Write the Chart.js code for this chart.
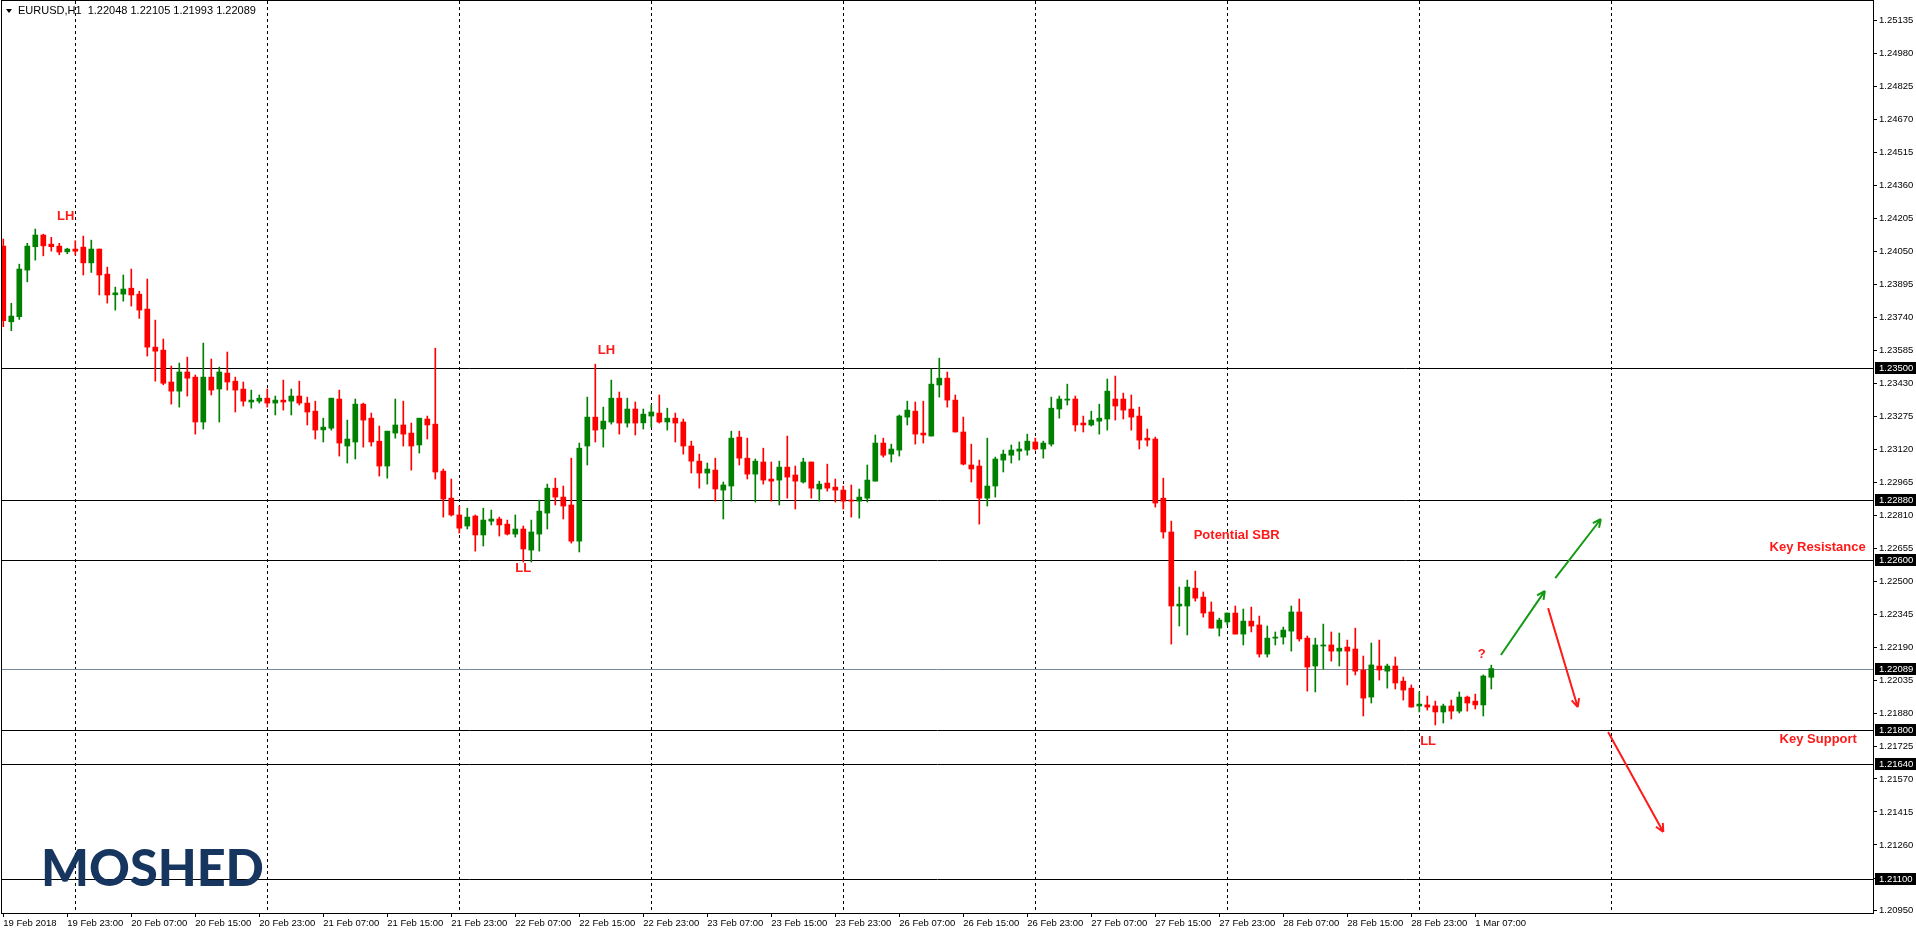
<!DOCTYPE html>
<html>
<head>
<meta charset="utf-8">
<script src="https://cdn.jsdelivr.net/npm/chart.js@4/dist/chart.umd.min.js"></script>
<style>
  html, body { margin: 0; padding: 0; background: #fff; }
  #wrap { width: 1916px; height: 934px; position: relative; }
</style>
</head>
<body>
<div id="wrap"><canvas id="chart"></canvas></div>
<script>
// EURUSD H1, 19 Feb 2018 14:00 .. 1 Mar 2018 08:00
const candleOpen = [
  1.24075,1.23719,1.23743,1.23962,1.24072,1.24127,1.24084,1.24075,1.24048,1.24061,
  1.24070,1.23996,1.24061,1.23943,1.23846,1.23849,1.23877,1.23849,1.23779,1.23600,
  1.23586,1.23436,1.23393,1.23483,1.23459,1.23248,1.23459,1.23403,1.23478,1.23440,
  1.23403,1.23342,1.23346,1.23360,1.23337,1.23351,1.23346,1.23370,1.23337,1.23299,
  1.23211,1.23219,1.23356,1.23135,1.23154,1.23332,1.23266,1.23158,1.23041,1.23196,
  1.23234,1.23196,1.23140,1.23262,1.23238,1.23017,1.22890,1.22811,1.22759,1.22806,
  1.22717,1.22782,1.22792,1.22768,1.22721,1.22745,1.22646,1.22721,1.22820,1.22937,
  1.22895,1.22858,1.22688,1.23135,1.23271,1.23215,1.23248,1.23360,1.23243,1.23309,
  1.23244,1.23276,1.23290,1.23248,1.23266,1.23248,1.23135,1.23064,1.23008,1.23022,
  1.22928,1.22947,1.23177,1.23078,1.23003,1.23060,1.22980,1.22975,1.23036,1.22999,
  1.22966,1.23060,1.22933,1.22961,1.22942,1.22928,1.22881,1.22876,1.22890,1.22970,
  1.23149,1.23097,1.23116,1.23271,1.23299,1.23196,1.23182,1.23422,1.23454,1.23351,
  1.23201,1.23046,1.23041,1.22890,1.22947,1.23069,1.23092,1.23111,1.23116,1.23154,
  1.23121,1.23144,1.23309,1.23351,1.23356,1.23243,1.23234,1.23252,1.23262,1.23356,
  1.23356,1.23309,1.23276,1.23172,1.23168,1.22890,1.22731,1.22383,1.22383,1.22467,
  1.22425,1.22355,1.22279,1.22308,1.22350,1.22251,1.22312,1.22294,1.22157,1.22232,
  1.22237,1.22265,1.22355,1.22232,1.22101,1.22195,1.22200,1.22171,1.22190,1.22181,
  1.22082,1.21955,1.22101,1.22077,1.22101,1.22030,1.21997,1.21913,1.21918,1.21913,
  1.21885,1.21913,1.21889,1.21955,1.21936,1.21918,1.22048
];
const candleHigh = [
  1.24108,1.23806,1.23990,1.24088,1.24155,1.24131,1.24116,1.24088,1.24065,1.24100,
  1.24122,1.24103,1.24061,1.23976,1.23882,1.23939,1.23967,1.23863,1.23920,1.23727,
  1.23638,1.23511,1.23525,1.23553,1.23469,1.23619,1.23544,1.23506,1.23577,1.23459,
  1.23436,1.23398,1.23375,1.23403,1.23370,1.23445,1.23403,1.23440,1.23365,1.23346,
  1.23266,1.23360,1.23398,1.23257,1.23356,1.23337,1.23290,1.23229,1.23205,1.23356,
  1.23346,1.23243,1.23266,1.23276,1.23595,1.23027,1.22980,1.22853,1.22843,1.22811,
  1.22843,1.22834,1.22801,1.22787,1.22811,1.22759,1.22787,1.22881,1.22956,1.22984,
  1.22947,1.23078,1.23149,1.23365,1.23520,1.23318,1.23445,1.23389,1.23360,1.23342,
  1.23309,1.23328,1.23375,1.23313,1.23290,1.23262,1.23158,1.23097,1.23055,1.23078,
  1.22966,1.23205,1.23205,1.23172,1.23074,1.23125,1.23060,1.23064,1.23182,1.23041,
  1.23078,1.23060,1.22970,1.23050,1.22980,1.22947,1.22952,1.22933,1.23046,1.23187,
  1.23172,1.23144,1.23281,1.23346,1.23342,1.23346,1.23497,1.23548,1.23483,1.23375,
  1.23271,1.23144,1.23069,1.23172,1.23083,1.23116,1.23140,1.23154,1.23191,1.23172,
  1.23158,1.23365,1.23370,1.23426,1.23370,1.23276,1.23299,1.23332,1.23450,1.23464,
  1.23384,1.23375,1.23318,1.23215,1.23177,1.22984,1.22782,1.22472,1.22505,1.22547,
  1.22449,1.22402,1.22326,1.22350,1.22383,1.22369,1.22378,1.22336,1.22289,1.22261,
  1.22284,1.22383,1.22416,1.22242,1.22232,1.22298,1.22261,1.22256,1.22223,1.22279,
  1.22148,1.22209,1.22223,1.22110,1.22143,1.22049,1.22012,1.21979,1.21960,1.21936,
  1.21922,1.21941,1.21979,1.21960,1.21969,1.22059,1.22105
];
const candleLow = [
  1.23696,1.23677,1.23730,1.23907,1.24009,1.24029,1.24051,1.24034,1.24039,1.24033,
  1.23939,1.23951,1.23845,1.23807,1.23774,1.23816,1.23793,1.23735,1.23558,1.23440,
  1.23423,1.23332,1.23318,1.23370,1.23191,1.23215,1.23375,1.23248,1.23398,1.23295,
  1.23323,1.23313,1.23337,1.23318,1.23281,1.23304,1.23281,1.23328,1.23234,1.23168,
  1.23154,1.23210,1.23088,1.23055,1.23074,1.23130,1.23135,1.22994,1.22984,1.23172,
  1.23135,1.23022,1.23102,1.23168,1.22980,1.22801,1.22806,1.22726,1.22745,1.22641,
  1.22665,1.22764,1.22712,1.22717,1.22707,1.22590,1.22590,1.22641,1.22745,1.22858,
  1.22792,1.22679,1.22637,1.23046,1.23154,1.23130,1.23238,1.23191,1.23224,1.23187,
  1.23215,1.23224,1.23243,1.23210,1.23154,1.23097,1.23008,1.22937,1.22956,1.22876,
  1.22792,1.22876,1.23046,1.22980,1.22872,1.22956,1.22876,1.22858,1.22890,1.22839,
  1.22961,1.22890,1.22876,1.22923,1.22872,1.22839,1.22801,1.22796,1.22872,1.22970,
  1.23083,1.23060,1.23088,1.23234,1.23144,1.23149,1.23182,1.23365,1.23318,1.23201,
  1.23046,1.22966,1.22768,1.22853,1.22895,1.23013,1.23055,1.23069,1.23092,1.23116,
  1.23078,1.23135,1.23266,1.23328,1.23205,1.23201,1.23229,1.23191,1.23210,1.23257,
  1.23262,1.23210,1.23121,1.23135,1.22848,1.22702,1.22204,1.22289,1.22247,1.22406,
  1.22331,1.22279,1.22242,1.22294,1.22251,1.22200,1.22261,1.22143,1.22143,1.22200,
  1.22204,1.22171,1.22218,1.21983,1.21979,1.22087,1.22124,1.22101,1.22012,1.22059,
  1.21866,1.21927,1.22035,1.21997,1.21993,1.21941,1.21908,1.21885,1.21894,1.21824,
  1.21833,1.21852,1.21880,1.21889,1.21899,1.21866,1.21993
];
const candleClose = [
  1.23724,1.23746,1.23967,1.24075,1.24127,1.24076,1.24072,1.24047,1.24061,1.24051,
  1.23996,1.24061,1.23939,1.23845,1.23855,1.23873,1.23845,1.23774,1.23600,1.23581,
  1.23430,1.23393,1.23483,1.23454,1.23248,1.23459,1.23398,1.23483,1.23436,1.23398,
  1.23346,1.23351,1.23360,1.23337,1.23351,1.23342,1.23370,1.23337,1.23295,1.23210,
  1.23224,1.23360,1.23149,1.23168,1.23332,1.23257,1.23154,1.23041,1.23205,1.23234,
  1.23191,1.23135,1.23266,1.23234,1.23013,1.22886,1.22811,1.22749,1.22801,1.22717,
  1.22787,1.22792,1.22764,1.22721,1.22745,1.22651,1.22731,1.22829,1.22937,1.22895,
  1.22853,1.22688,1.23125,1.23271,1.23210,1.23252,1.23360,1.23243,1.23309,1.23243,
  1.23285,1.23295,1.23248,1.23266,1.23243,1.23135,1.23064,1.23008,1.23027,1.22933,
  1.22952,1.23172,1.23078,1.23003,1.23064,1.22975,1.22970,1.23036,1.22989,1.22970,
  1.23060,1.22937,1.22956,1.22937,1.22928,1.22876,1.22876,1.22895,1.22975,1.23149,
  1.23092,1.23121,1.23276,1.23304,1.23191,1.23187,1.23426,1.23454,1.23351,1.23201,
  1.23050,1.23027,1.22890,1.22947,1.23074,1.23097,1.23116,1.23121,1.23158,1.23121,
  1.23149,1.23313,1.23356,1.23356,1.23234,1.23234,1.23257,1.23266,1.23393,1.23323,
  1.23304,1.23271,1.23163,1.23163,1.22867,1.22731,1.22383,1.22392,1.22472,1.22420,
  1.22350,1.22279,1.22317,1.22350,1.22251,1.22312,1.22289,1.22157,1.22232,1.22237,
  1.22270,1.22355,1.22228,1.22096,1.22200,1.22200,1.22171,1.22185,1.22171,1.22077,
  1.21950,1.22106,1.22082,1.22101,1.22021,1.21988,1.21908,1.21922,1.21908,1.21885,
  1.21913,1.21889,1.21955,1.21927,1.21918,1.22054,1.22089
];

// time axis labels (every 8 bars)
const timeLabels = [
  '19 Feb 2018','19 Feb 23:00','20 Feb 07:00','20 Feb 15:00','20 Feb 23:00','21 Feb 07:00',
  '21 Feb 15:00','21 Feb 23:00','22 Feb 07:00','22 Feb 15:00','22 Feb 23:00','23 Feb 07:00',
  '23 Feb 15:00','23 Feb 23:00','26 Feb 07:00','26 Feb 15:00','26 Feb 23:00','27 Feb 07:00',
  '27 Feb 15:00','27 Feb 23:00','28 Feb 07:00','28 Feb 15:00','28 Feb 23:00','1 Mar 07:00'
];
const timeLabelBars = timeLabels.map((_, k) => k * 8);
const dayGridBars = [9, 33, 57, 81, 105, 129, 153, 177, 201];

const priceTicks = [
  1.25135,1.24980,1.24825,1.24670,1.24515,1.24360,1.24205,1.24050,1.23895,1.23740,
  1.23585,1.23430,1.23275,1.23120,1.22965,1.22810,1.22655,1.22500,1.22345,1.22190,
  1.22035,1.21880,1.21725,1.21570,1.21415,1.21260,1.21100,1.20950
];
const levelLines = [1.23500, 1.22880, 1.22600, 1.21800, 1.21640, 1.21100];
const bidPrice = 1.22089;

const noteTexts = [
  { text: 'LH', x: 7.8, y: 1.24216, align: 'center' },
  { text: 'LH', x: 75.4, y: 1.23586, align: 'center' },
  { text: 'LL', x: 65, y: 1.22562, align: 'center' },
  { text: 'LL', x: 178.1, y: 1.21748, align: 'center' },
  { text: '?', x: 184.8, y: 1.22157, align: 'center' },
  { text: 'Potential SBR', x: 148.8, y: 1.22713, align: 'left' },
  { text: 'Key Resistance', x: 232.8, y: 1.22658, align: 'right' },
  { text: 'Key Support', x: 231.7, y: 1.21758, align: 'right' }
];
const arrows = [
  { from: [187.2, 1.22153], to: [192.7, 1.22454], color: '#159a15' },
  { from: [194.0, 1.22514], to: [199.7, 1.22792], color: '#159a15' },
  { from: [193.1, 1.22373], to: [196.8, 1.21908], color: '#ff1a1a' },
  { from: [200.6, 1.21791], to: [207.5, 1.21321], color: '#ff1a1a' }
];

const UP = '#008000', DOWN = '#ff0000';
const FONT = '"Liberation Sans", Arial, sans-serif';
const idx = candleOpen.map((_, i) => i);
const colors = idx.map(i => candleClose[i] >= candleOpen[i] ? UP : DOWN);

const overlay = {
  id: 'overlay',
  beforeDatasetsDraw(chart) {
    const { ctx, chartArea: a, scales: { x, y } } = chart;
    ctx.save();
    ctx.strokeStyle = '#000';
    ctx.lineWidth = 1;
    ctx.setLineDash([3, 3]);
    dayGridBars.forEach(b => {
      const px = Math.round(x.getPixelForValue(b)) + 0.5;
      ctx.beginPath(); ctx.moveTo(px, a.top); ctx.lineTo(px, a.bottom); ctx.stroke();
    });
    ctx.setLineDash([]);
    levelLines.forEach(v => {
      const py = Math.round(y.getPixelForValue(v)) + 0.5;
      ctx.beginPath(); ctx.moveTo(a.left, py); ctx.lineTo(a.right, py); ctx.stroke();
    });
    ctx.strokeStyle = '#778899';
    const by = Math.round(y.getPixelForValue(bidPrice)) + 0.5;
    ctx.beginPath(); ctx.moveTo(a.left, by); ctx.lineTo(a.right, by); ctx.stroke();
    // frame
    ctx.strokeStyle = '#000';
    ctx.strokeRect(a.left - 0.5, a.top - 0.5, a.right - a.left + 1, a.bottom - a.top + 1);
    ctx.restore();
  },
  afterDraw(chart) {
    const { ctx, chartArea: a, scales: { x, y } } = chart;
    ctx.save();
    // price markers on the axis
    ctx.font = '9.5px ' + FONT;
    ctx.textBaseline = 'middle';
    ctx.textAlign = 'left';
    levelLines.concat([bidPrice]).forEach(v => {
      const py = Math.round(y.getPixelForValue(v));
      ctx.fillStyle = '#000';
      ctx.fillRect(a.right + 2, py - 6, 41, 12);
      ctx.fillStyle = '#fff';
      ctx.fillText(v.toFixed(5), a.right + 6, py + 0.5);
    });
    // notes
    ctx.font = 'bold 13px ' + FONT;
    ctx.fillStyle = '#ff1a1a';
    noteTexts.forEach(n => {
      ctx.textAlign = n.align;
      ctx.fillText(n.text, x.getPixelForValue(n.x), y.getPixelForValue(n.y));
    });
    // arrows
    ctx.lineWidth = 2;
    arrows.forEach(r => {
      const x1 = x.getPixelForValue(r.from[0]), y1 = y.getPixelForValue(r.from[1]);
      const x2 = x.getPixelForValue(r.to[0]), y2 = y.getPixelForValue(r.to[1]);
      const ang = Math.atan2(y2 - y1, x2 - x1);
      ctx.strokeStyle = r.color;
      ctx.beginPath(); ctx.moveTo(x1, y1); ctx.lineTo(x2, y2);
      [-0.45, 0.45].forEach(d => {
        ctx.moveTo(x2, y2);
        ctx.lineTo(x2 - 9 * Math.cos(ang + d), y2 - 9 * Math.sin(ang + d));
      });
      ctx.stroke();
    });
    // header
    const last = candleOpen.length - 1;
    ctx.fillStyle = '#000';
    ctx.beginPath(); ctx.moveTo(6, 9); ctx.lineTo(12, 9); ctx.lineTo(9, 13); ctx.closePath(); ctx.fill();
    ctx.font = '11px ' + FONT;
    ctx.textAlign = 'left';
    ctx.fillText('EURUSD,H1  ' + [candleOpen[last], candleHigh[last], candleLow[last], candleClose[last]]
      .map(v => v.toFixed(5)).join(' '), 18, 11);
    // watermark
    ctx.font = '900 52px Lato, "Open Sans", sans-serif';
    ctx.fillStyle = '#17365f';
    ctx.textBaseline = 'alphabetic';
    const w = ctx.measureText('MOSHED').width;
    ctx.translate(41, 886);
    ctx.scale(223 / w, 1);
    ctx.fillText('MOSHED', 0, 0);
    ctx.restore();
  }
};

new Chart(document.getElementById('chart'), {
  type: 'bar',
  data: {
    datasets: [
      {
        label: 'body',
        data: idx.map(i => ({ x: i, y: [candleOpen[i], candleClose[i]] })),
        backgroundColor: colors,
        barThickness: 5,
        minBarLength: 1,
        grouped: false,
        order: 0
      },
      {
        label: 'wick',
        data: idx.map(i => ({ x: i, y: [candleLow[i], candleHigh[i]] })),
        backgroundColor: colors,
        barThickness: 1,
        grouped: false,
        order: 1
      }
    ]
  },
  options: {
    responsive: true,
    maintainAspectRatio: false,
    animation: false,
    layout: { padding: { top: 1, left: 2, right: 0, bottom: 0 } },
    plugins: { legend: { display: false }, tooltip: { enabled: false } },
    scales: {
      x: {
        type: 'linear',
        offset: false,
        min: -0.1625,
        max: 233.7125,
        afterBuildTicks: s => { s.ticks = timeLabelBars.map(v => ({ value: v })); },
        afterFit: s => { s.height = 21; s.paddingLeft = 0; s.paddingRight = 0; },
        grid: { drawOnChartArea: false, tickLength: 4, color: '#000', offset: false },
        border: { color: '#000' },
        ticks: {
          autoSkip: false, maxRotation: 0, align: 'start', padding: 1,
          color: '#000', font: { family: FONT, size: 9.5 },
          callback: v => timeLabels[timeLabelBars.indexOf(v)] || ''
        }
      },
      y: {
        position: 'right',
        min: 1.20940,
        max: 1.25227,
        afterBuildTicks: s => { s.ticks = priceTicks.map(v => ({ value: v })); },
        afterFit: s => { s.width = 43; s.paddingTop = 0; s.paddingBottom = 0; },
        grid: { drawOnChartArea: false, tickLength: 4, color: '#000' },
        border: { color: '#000' },
        ticks: {
          autoSkip: false, padding: 2, color: '#000',
          font: { family: FONT, size: 9.5 },
          callback: v => v.toFixed(5)
        }
      }
    }
  },
  plugins: [overlay]
});
</script>
</body>
</html>
